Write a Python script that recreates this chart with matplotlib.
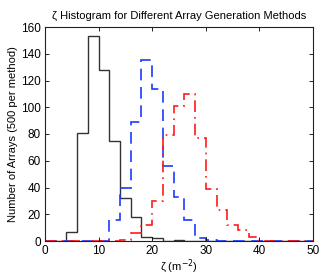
import matplotlib
matplotlib.use("Agg")
import matplotlib.pyplot as plt
import numpy as np

plt.rcParams['font.family'] = ['Liberation Sans', 'DejaVu Sans']

bin_edges = list(range(0, 52, 2))
black_counts = [0, 0, 7, 81, 153, 128, 75, 32, 18, 3, 2, 0, 1, 0, 0, 0, 0, 0, 0, 0, 0, 0, 0, 0, 0]
blue_counts = [0, 0, 0, 0, 0, 0, 16, 40, 89, 135, 114, 56, 33, 16, 2, 1, 0, 0, 0, 0, 0, 0, 0, 0, 0]
red_counts = [0, 0, 0, 0, 0, 0, 0, 1, 6, 12, 30, 79, 101, 110, 77, 39, 23, 12, 8, 3, 0, 0, 0, 0, 0]

xticks = [0, 10, 20, 30, 40, 50]
yticks = [0, 20, 40, 60, 80, 100, 120, 140, 160]

fig = plt.figure(figsize=(3.24, 2.77), dpi=100)
ax = fig.add_axes([45/324, 36/277, 268/324, 214/277])

ax.stairs(black_counts, bin_edges, color='#333333', linestyle='-', linewidth=1.0, baseline=None)
ax.stairs(blue_counts, bin_edges, color='#1a3cff', linestyle=(0, (7, 4)), linewidth=1.2, baseline=None)
ax.stairs(red_counts, bin_edges, color='#ff1a1a', linestyle=(0, (7, 3, 1, 3)), linewidth=1.2, baseline=None)

ax.set_xlim(0, 50)
ax.set_ylim(0, 160)
ax.set_xticks(xticks)
ax.set_yticks(yticks)
ax.tick_params(direction='in', top=True, right=True, length=3, width=0.6, labelsize=8.5, pad=3)
for s in ax.spines.values():
    s.set_linewidth(0.8)
    s.set_color('#222222')

ax.set_title('ζ Histogram for Different Array Generation Methods', fontsize=8, pad=6)
ax.set_xlabel('ζ (m$^{-2}$)', fontsize=8, labelpad=0)
ax.set_ylabel('Number of Arrays (500 per method)', fontsize=8, labelpad=2)

fig.savefig('out.png', dpi=100)
